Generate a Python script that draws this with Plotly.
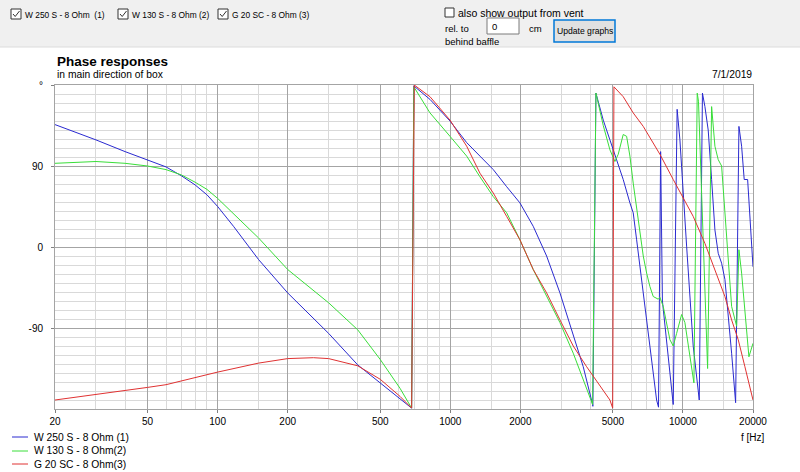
import plotly.graph_objects as go

# ---------------- data ----------------
series_names = ["W 250 S - 8 Ohm (1)", "W 130 S - 8 Ohm(2)", "G 20 SC - 8 Ohm(3)"]
series_colors = ["#2a2ad0", "#3ade3a", "#e03232"]

blue_f = [20, 30, 40, 50, 60, 70, 80, 90, 100, 117, 150, 200, 300, 400, 500, 608, 682,
          697, 818, 997, 1176, 1341, 1530, 1747, 1992, 2272, 2594, 2960, 3376, 3727, 4090,
          4100, 4226, 4544, 4853, 5186, 5536, 5916, 6112, 6322, 6532, 6750, 6980, 7212, 7452, 7704, 7850,
          8016, 8160, 8618, 9082, 9440, 9704, 10368, 11068, 11750, 12126, 12428, 12838, 13278, 13720,
          14176, 14660, 15146, 15650, 16184, 16840, 17400, 17870, 18334, 18966, 19400, 20000]
blue_p = [136, 119, 106, 97, 89, 79, 69, 58, 45, 23, -14, -51, -96, -131, -151, -168, -179,
          179, 164, 140, 116, 101, 86, 67, 49, 23, -10, -51, -99, -133, -175,
          -177, 171, 141, 119, 97, 75, 49, 38, 8, -22, -51, -81, -110, -140, -170, -178,
          106, -60, -120, -175, 153, 119, 1, -110, -170, 171, 156, 130, 75, 19,
          -7, -18, -36, -73, -118, -173, 134, 112, 75, 75, 38, -22]

green_f = [20, 30, 40, 50, 60, 70, 80, 90, 100, 133, 150, 200, 300, 400, 500, 608, 682,
           697, 818, 997, 1176, 1341, 1530, 1747, 1992, 2272, 2594, 2960, 3376, 3727, 4090,
           4226, 4544, 4853, 5100, 5270, 5536, 5726, 5916, 6112, 6322, 6532, 6750, 6980, 7212, 7452,
           7828, 7960, 8226, 8788, 9082, 9392, 9868, 10194, 10712, 11144, 11516, 11660, 12762, 13278,
           13720, 14176, 14660, 15146, 15650, 16184, 17008, 17400, 17870, 18460, 19206, 20000]
green_p = [93, 95, 93, 90, 86, 80, 72, 64, 54, 23, 10, -25, -62, -92, -125, -157, -179,
           178, 149, 123, 101, 78, 56, 38, 8, -25, -55, -84, -118, -147, -175,
           171, 135, 108, 95, 103, 125, 123, 101, 71, 45, 16, -10, -29, -44, -55,
           -58, -56, -66, -103, -110, -96, -75, -84, -122, -151, 171, 162, -135, 156,
           112, 97, 90, 38, -22, -66, -88, -3, -29, -73, -122, -107]

red_f = [20, 30, 40, 50, 60, 80, 100, 150, 200, 258, 300, 400, 500, 608, 682,
         700, 818, 997, 1176, 1341, 1530, 1747, 1992, 2272, 2594, 2960, 3376, 3854, 4398, 4853, 4988,
         5050, 5536, 6112, 6750, 7452, 7960, 9082, 10024, 11068, 12428, 13720, 15146, 16184, 17280,
         18460, 20000]
red_p = [-170, -164, -160, -156, -153, -145, -139, -129, -124, -123, -124, -132, -147, -166, -179,
         180, 167, 141, 112, 82, 60, 34, 8, -25, -51, -81, -110, -133, -155, -170, -179,
         178, 167, 149, 134, 116, 103, 75, 54, 34, 4, -25, -55, -81, -103,
         -133, -170]

x_major = [20, 50, 100, 200, 500, 1000, 2000, 5000, 10000, 20000]
x_major_labels = ["20", "50", "100", "200", "500", "1000", "2000", "5000", "10000", "20000"]
x_minor = [30, 40, 60, 70, 80, 90, 150, 300, 400, 600, 700, 800, 900, 1500, 3000, 4000,
           6000, 7000, 8000, 9000, 15000]
y_ticks = [-90, 0, 90, 180]
y_tick_labels = ["-90", "0", "90", "°"]

checkbox_labels = ["W 250 S - 8 Ohm  (1)", "W 130 S - 8 Ohm (2)", "G 20 SC - 8 Ohm (3)"]

# ---------------- geometry helpers (pixel -> paper) ----------------
W, H = 800, 472
L, R, T, B = 55, 753, 85, 409


def px(x):
    return (x - L) / (R - L)


def py(y):
    return (B - y) / (B - T)


FONT = "Liberation Sans"

fig = go.Figure()
for f, p, name, col in zip([blue_f, green_f, red_f], [blue_p, green_p, red_p], series_names, series_colors):
    fig.add_trace(go.Scatter(x=f, y=p, mode="lines", name=name,
                             line=dict(color=col, width=1), showlegend=False,
                             hoverinfo="skip"))

shapes = []
annotations = []


def text(x, y, s, size=9.5, anchor="left", bold=False):
    annotations.append(dict(x=px(x), y=py(y), xref="paper", yref="paper",
                            text=("<b>%s</b>" % s) if bold else s,
                            showarrow=False, xanchor=anchor, yanchor="middle",
                            font=dict(family=FONT, size=size, color="#000000")))


# top control panel
shapes.append(dict(type="rect", xref="paper", yref="paper", x0=px(0), x1=px(800), y0=py(47), y1=py(0),
                   fillcolor="#f0f0f0", line=dict(width=0), layer="below"))
shapes.append(dict(type="line", xref="paper", yref="paper", x0=px(0), x1=px(800), y0=py(47), y1=py(47),
                   line=dict(color="#dcdcdc", width=1)))

# checkboxes
cb_x = [11, 118, 218]
for bx, lab in zip(cb_x, checkbox_labels):
    shapes.append(dict(type="rect", xref="paper", yref="paper", x0=px(bx), x1=px(bx + 10),
                       y0=py(19), y1=py(9), fillcolor="white", line=dict(color="#333333", width=1)))
    path = "M {} {} L {} {} L {} {}".format(px(bx + 2), py(14), px(bx + 4.2), py(16.5), px(bx + 8.5), py(11))
    shapes.append(dict(type="path", xref="paper", yref="paper", path=path,
                       line=dict(color="#333333", width=1)))
    text(bx + 12, 14.5, lab, size=8.4)

# vent checkbox and offset controls
shapes.append(dict(type="rect", xref="paper", yref="paper", x0=px(445), x1=px(454), y0=py(17), y1=py(8),
                   fillcolor="white", line=dict(color="#333333", width=1)))
text(456, 12.5, "also show output from vent", size=10.5)
text(443, 28, "rel. to", size=9.5)
text(443, 41, "behind baffle", size=9.5)
shapes.append(dict(type="rect", xref="paper", yref="paper", x0=px(487), x1=px(519), y0=py(34), y1=py(18),
                   fillcolor="white", line=dict(color="#7a7a7a", width=1)))
text(490, 26, "0", size=9.5)
text(527, 28, "cm", size=9.5)
shapes.append(dict(type="rect", xref="paper", yref="paper", x0=px(554), x1=px(615), y0=py(42), y1=py(20),
                   fillcolor="#e1e1e1", line=dict(color="#0078d7", width=1.5)))
text(584.5, 31, "Update graphs", size=8.6, anchor="center")

# titles
text(55, 62, "Phase responses", size=13.5, bold=True)
text(55, 74.5, "in main direction of box", size=10.3)
text(754, 74.5, "7/1/2019", size=10.3, anchor="right")
text(753, 437, "f [Hz]", size=10, anchor="center")

# custom legend
leg_y = [437, 451, 464]
for ly, name, col in zip(leg_y, series_names, series_colors):
    shapes.append(dict(type="line", xref="paper", yref="paper", x0=px(12), x1=px(28), y0=py(ly), y1=py(ly),
                       line=dict(color=col, width=1)))
    text(32, ly, name, size=10.3)

fig.update_layout(
    width=W, height=H,
    margin=dict(l=L, r=W - R, t=T, b=H - B, pad=0),
    paper_bgcolor="white", plot_bgcolor="white",
    shapes=shapes, annotations=annotations,
    font=dict(family=FONT, size=10, color="#000000"),
    hovermode=False,
)
fig.update_xaxes(
    type="log", range=[1.30103, 4.30103],
    tickmode="array", tickvals=x_major, ticktext=x_major_labels,
    showgrid=True, gridcolor="#a4a4a4", gridwidth=1,
    ticks="outside", ticklen=3, tickcolor="#808080",
    minor=dict(tickmode="array", tickvals=x_minor, showgrid=True, gridcolor="#d9d9d9", ticks=""),
    showline=True, linecolor="#a4a4a4", mirror=True, zeroline=False,
    tickfont=dict(family=FONT, size=10, color="#000000"),
)
fig.update_yaxes(
    range=[-180, 180],
    tickmode="array", tickvals=y_ticks, ticktext=y_tick_labels,
    showgrid=True, gridcolor="#a4a4a4", gridwidth=1,
    ticks="outside", ticklen=3, tickcolor="#808080", ticklabelstandoff=6,
    minor=dict(tickmode="linear", tick0=0, dtick=10, showgrid=True, gridcolor="#d9d9d9", ticks=""),
    showline=True, linecolor="#a4a4a4", mirror=True, zeroline=False,
    tickfont=dict(family=FONT, size=10, color="#000000"),
)

fig.write_html("out.html", config={"displayModeBar": False},
               post_script="document.body.style.margin='0px';document.body.style.padding='0px';")
